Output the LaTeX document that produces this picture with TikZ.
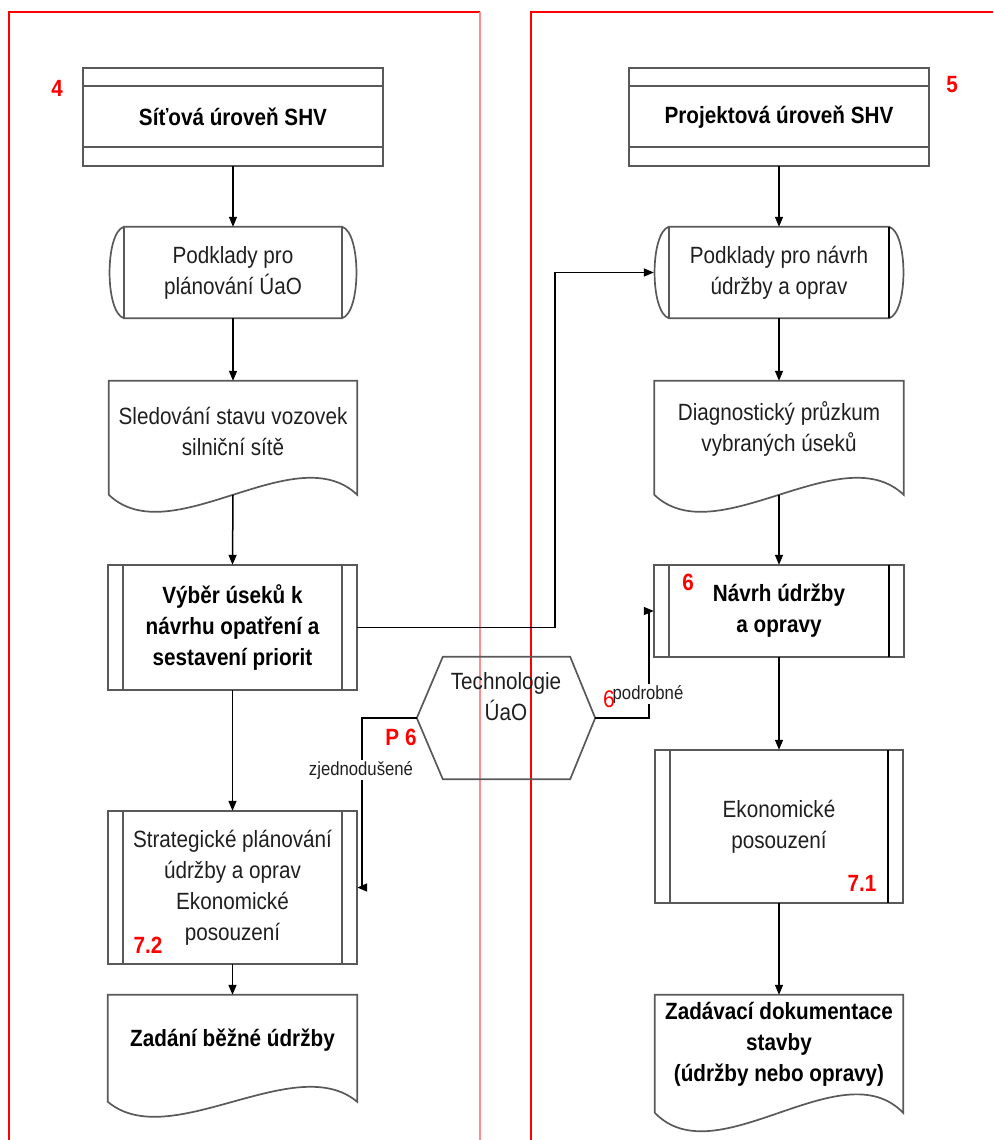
\documentclass[tikz,border=0pt]{standalone}
\usepackage{fontspec}
\setmainfont{Liberation Sans}[FakeStretch=0.88]
\usetikzlibrary{arrows.meta,calc}
\tikzset{
 x=1pt,y=-1pt,
 boxline/.style={draw=black!65, line width=1.7pt},
 conn/.style={draw=black, line width=1.5pt, -{Triangle[length=10pt,width=8pt]}},
 redframe/.style={draw=red, line width=1.8pt},
 lightframe/.style={draw=red!45, line width=1.2pt},
 txt/.style={font=\fontsize{23.5}{31}\selectfont, text=black!88, align=center, inner sep=0pt},
 btxt/.style={font=\fontsize{23.5}{31}\selectfont\bfseries, text=black, align=center, inner sep=0pt},
 holder/.style={draw=none, inner sep=0pt},
 rednum/.style={text=red, font=\fontsize{23.5}{28}\selectfont\bfseries, inner sep=0pt},
 redplain/.style={text=red, font=\fontsize{24}{28}\selectfont, inner sep=0pt},
 smalllbl/.style={font=\fontsize{19}{22}\selectfont, text=black!88, fill=white, inner sep=1pt},
}
\newcommand\HeadBox[1]{%
 \draw[boxline] (#1.north west) rectangle (#1.south east);
 \draw[boxline] ($(#1.north west)+(0,18)$) -- ($(#1.north east)+(0,18)$);
 \draw[boxline] ($(#1.south west)+(0,-19)$) -- ($(#1.south east)+(0,-19)$);
}
\newcommand\ProcBox[2]{%
 \draw[boxline] (#1.north west) rectangle (#1.south east);
 \draw[boxline] ($(#1.north west)+(15,0)$) -- ($(#1.south west)+(15,0)$);
 \draw[boxline,draw=#2] ($(#1.north east)+(-15,0)$) -- ($(#1.south east)+(-15,0)$);
}
\newcommand\TermBox[2]{%
 \draw[boxline] ($(#1.north west)+(15,0)$) -- ($(#1.north east)+(-15,0)$)
   .. controls ($(#1.north east)+(4,6)$) and ($(#1.south east)+(4,-6)$) .. ($(#1.south east)+(-15,0)$)
   -- ($(#1.south west)+(15,0)$)
   .. controls ($(#1.south west)+(-4,-6)$) and ($(#1.north west)+(-4,6)$) .. ($(#1.north west)+(15,0)$) -- cycle;
 \draw[boxline] ($(#1.north west)+(15,0)$) -- ($(#1.south west)+(15,0)$);
 \draw[boxline,draw=#2] ($(#1.north east)+(-15,0)$) -- ($(#1.south east)+(-15,0)$);
}
\newcommand\DocBox[3]{%
 \path (#1.north west) ++(0,#2) coordinate (#1-l);
 \path (#1.north east) ++(0,#2) coordinate (#1-r);
 \path (#1.north) ++(0,#2) coordinate (#1-b);
 \draw[boxline] (#1-l) -- (#1.north west) -- (#1.north east) -- (#1-r)
   .. controls ($(#1-r)+(-62,-#3)$) and ($(#1-l)+(62,#3)$) .. (#1-l) -- cycle;
}
\begin{document}
\begin{tikzpicture}
\useasboundingbox (0,0) rectangle (993,1140);

% panels
\draw[redframe] (9,1140) -- (9,12) -- (480,12);
\draw[lightframe] (480,12) -- (480,1140);
\draw[redframe] (531,1140) -- (531,12) -- (993,12);

% nodes
\node[holder, btxt, minimum width=300pt, minimum height=98pt] (tl) at (233,117) {Síťová úroveň SHV};
\node[holder, btxt, minimum width=299pt, minimum height=98pt] (tr) at (779,117) {Projektová úroveň SHV};
\node[holder, txt, minimum width=248pt, minimum height=91pt] (lt) at (233,272.5) {Podklady pro\\plánování ÚaO};
\node[holder, txt, minimum width=250pt, minimum height=91pt] (rt) at (779,272.5) {Podklady pro návrh\\údržby a oprav};
\node[holder, txt, minimum width=248pt, minimum height=100pt] (ld) at (233,431) {Sledování stavu vozovek\\silniční sítě};
\node[holder, txt, minimum width=249pt, minimum height=96pt] (rd) at (779,429) {Diagnostický průzkum\\vybraných úseků};
\node[holder, btxt, minimum width=249pt, minimum height=125pt] (vyb) at (232.5,627.5) {Výběr úseků k\\návrhu opatření a\\sestavení priorit};
\node[holder, btxt, minimum width=250pt, minimum height=92pt] (nav) at (779,611) {Návrh údržby\\a opravy};
\node[holder, minimum width=178pt, minimum height=122pt] (tech) at (506,718) {};
\node[txt] (techlbl) at (506,697) {Technologie\\ÚaO};
\node[holder, txt, minimum width=249pt, minimum height=153pt] (str) at (232.5,887.5) {Strategické plánování\\údržby a oprav\\Ekonomické\\posouzení};
\node[holder, txt, minimum width=248pt, minimum height=153pt] (eko) at (779,826.5) {Ekonomické\\posouzení};
\node[holder, btxt, minimum width=249pt, minimum height=90pt] (zb) at (232.5,1040) {Zadání běžné údržby};
\node[holder, btxt, minimum width=248pt, minimum height=98pt] (zd) at (779,1044) {Zadávací dokumentace\\stavby\\(údržby nebo opravy)};

% outlines
\HeadBox{tl}
\HeadBox{tr}
\TermBox{lt}{black!65}
\TermBox{rt}{black}
\DocBox{ld}{114}{59}
\DocBox{rd}{114}{59}
\ProcBox{vyb}{black!65}
\ProcBox{nav}{black}
\ProcBox{str}{black!65}
\ProcBox{eko}{black}
\DocBox{zb}{107}{52}
\DocBox{zd}{118}{64}
\draw[boxline] (tech.west) -- ($(tech.north west)+(26,0)$) -- ($(tech.north east)+(-25,0)$)
  -- (tech.east) -- ($(tech.south east)+(-25,0)$) -- ($(tech.south west)+(26,0)$) -- cycle;

% connectors
\draw[conn] (tl.south) -- (lt.north);
\draw[conn] (lt.south) -- (ld.north);
\draw[conn] (ld-b) -- (vyb.north);
\draw[conn] (vyb.south) -- (str.north);
\draw[conn] (str.south) -- (zb.north);
\draw[conn] (tr.south) -- (rt.north);
\draw[conn] (rt.south) -- (rd.north);
\draw[conn] (rd-b) -- (nav.north);
\draw[conn] (nav.south) -- (eko.north);
\draw[conn] (eko.south) -- (zd.north);
\draw[conn] (vyb.east) -- ++(198,0) |- (rt.west);
\draw[conn] (tech.west) -- ++(-55,0) |- (str.east);
\draw[conn] (tech.east) -- ++(54,0) |- (nav.west);

% connector labels
\node[smalllbl] (lz) at (361,770) {zjednodušené};
\node[smalllbl] (lp) at (648,694) {podrobné};

% red numbers
\node[rednum] (n4) at (57,88) {4};
\node[rednum] (n5) at (952,85) {5};
\node[rednum] (np6) at (401,737) {P 6};
\node[redplain] (n6a) at (609,699) {6};
\node[rednum] (n6b) at (688,582) {6};
\node[rednum] (n72) at (148,945) {7.2};
\node[rednum] (n71) at (862,883) {7.1};
\end{tikzpicture}
\end{document}
